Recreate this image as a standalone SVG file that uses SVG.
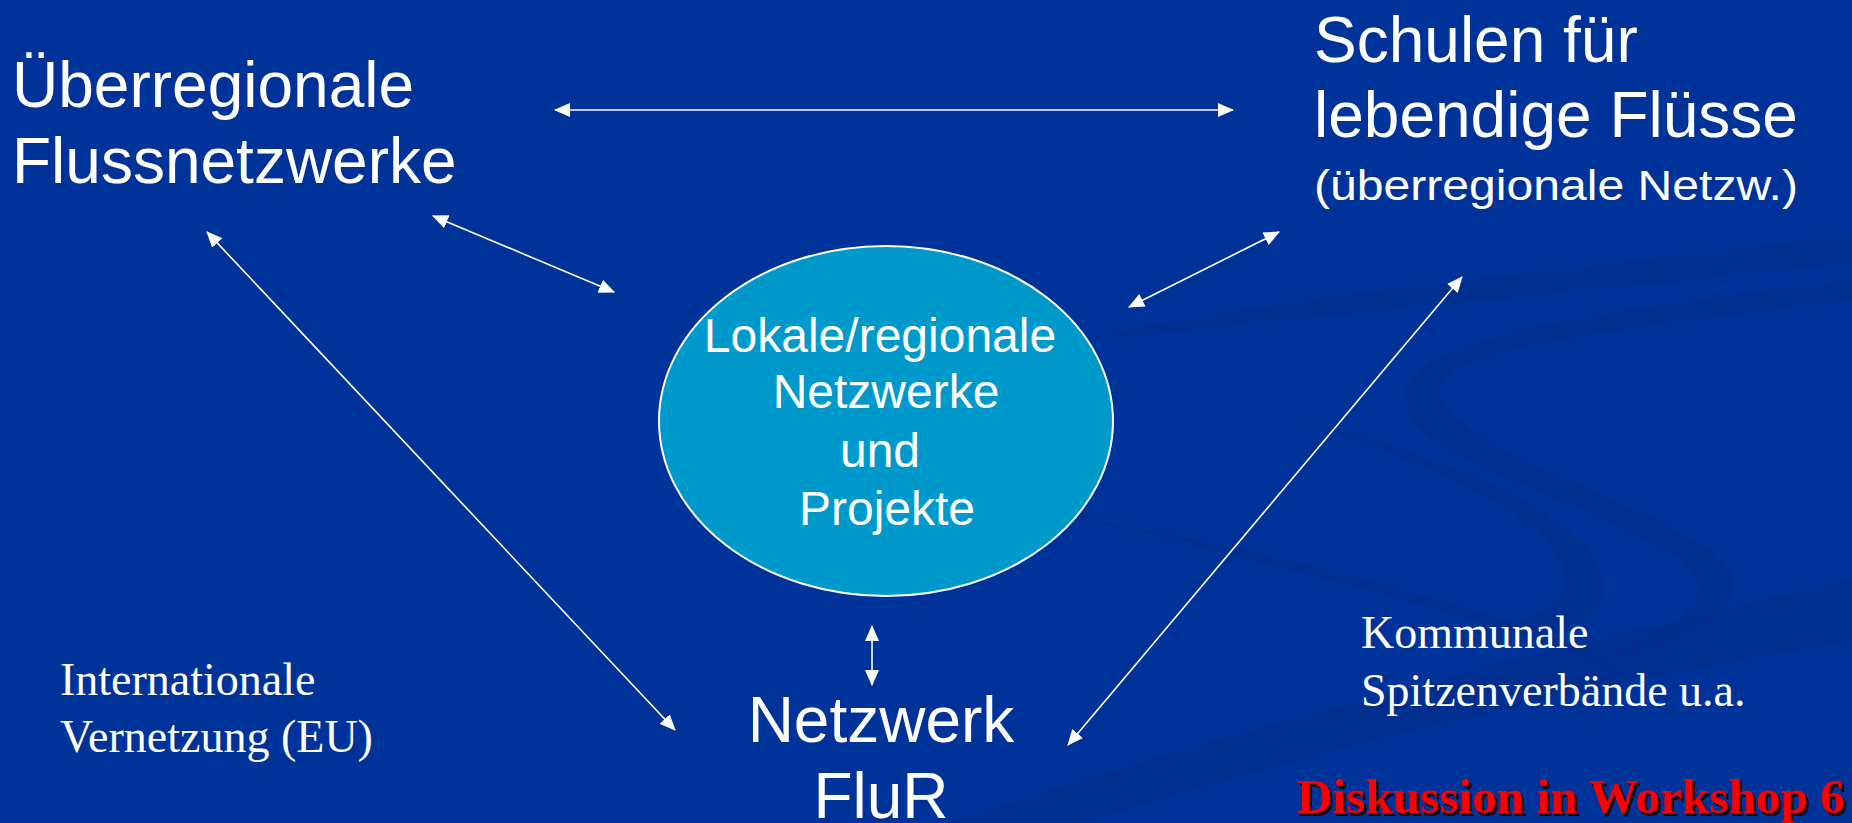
<svg xmlns="http://www.w3.org/2000/svg" width="1852" height="823" viewBox="0 0 1852 823">
<defs>
<style>
.sans{font-family:"Liberation Sans",Arial,sans-serif;fill:#fff}
.serif{font-family:"Liberation Serif","Times New Roman",serif;fill:#fff}
.big{font-size:64px}
.mid{font-size:48px}
.conn line{stroke:#fff;stroke-width:1.6;marker-start:url(#ah);marker-end:url(#ah)}
.swoosh{fill:#002a85;opacity:0.45}
</style>
<marker id="ah" markerUnits="userSpaceOnUse" markerWidth="16" markerHeight="14" refX="15" refY="7" orient="auto-start-reverse">
<path d="M0,0 L16,7 L0,14 z" fill="#fff"/>
</marker>
</defs>
<rect width="1852" height="823" fill="#003399"/>
<g id="background">
<path class="swoosh" d="M1060,345 C1300,290 1600,270 1852,235 L1852,262 C1600,292 1320,312 1060,345 z"/>
<path class="swoosh" d="M1852,300 C1600,330 1430,350 1440,395 C1450,450 1650,500 1720,560 C1760,600 1700,640 1600,660 C1700,620 1720,590 1680,560 C1600,500 1400,460 1405,395 C1410,335 1620,310 1852,280 z"/>
<path class="swoosh" d="M1000,500 C1200,540 1400,580 1560,640 C1640,672 1640,700 1560,720 C1640,690 1620,665 1540,640 C1380,590 1200,545 1000,500 z"/>
<path class="swoosh" d="M950,823 C1200,740 1500,660 1852,580 L1852,640 C1500,700 1250,770 1080,823 z"/>
<path class="swoosh" d="M1300,420 C1500,470 1620,540 1600,600 C1580,640 1500,650 1430,640 C1520,630 1560,610 1565,585 C1575,530 1450,470 1300,420 z"/>
</g>
<g id="connectors" class="conn">
<line x1="555" y1="110" x2="1233" y2="110"/>
<line x1="433" y1="216" x2="614" y2="292"/>
<line x1="207" y1="232" x2="675" y2="730"/>
<line x1="1279" y1="232" x2="1129" y2="307"/>
<line x1="1462" y1="277" x2="1068" y2="745"/>
<line x1="872" y1="626" x2="872" y2="685"/>
</g>
<g id="node-ueberregional">
<text class="sans big" x="12" y="107">Überregionale</text>
<text class="sans big" x="12" y="183">Flussnetzwerke</text>
</g>
<g id="node-schulen">
<text class="sans big" x="1314" y="62">Schulen für</text>
<text class="sans big" x="1314" y="137">lebendige Flüsse</text>
<text class="sans" font-size="42" x="1314" y="200" textLength="484" lengthAdjust="spacingAndGlyphs">(überregionale Netzw.)</text>
</g>
<g id="node-lokal">
<ellipse cx="886" cy="421" rx="227" ry="175" fill="#0099CC" stroke="#fff" stroke-width="2"/>
<text class="sans mid" text-anchor="middle" x="880" y="352">Lokale/regionale</text>
<text class="sans mid" text-anchor="middle" x="886" y="408">Netzwerke</text>
<text class="sans mid" text-anchor="middle" x="880" y="467">und</text>
<text class="sans mid" text-anchor="middle" x="887" y="525">Projekte</text>
</g>
<g id="node-flur">
<text class="sans big" text-anchor="middle" x="881" y="742">Netzwerk</text>
<text class="sans big" text-anchor="middle" x="881" y="818">FluR</text>
</g>
<g id="node-international">
<text class="serif" font-size="46" x="60" y="695">Internationale</text>
<text class="serif" font-size="46" x="60" y="752">Vernetzung (EU)</text>
</g>
<g id="node-kommunal">
<text class="serif" font-size="46" x="1361" y="648">Kommunale</text>
<text class="serif" font-size="46" x="1361" y="706">Spitzenverbände u.a.</text>
</g>
<g id="node-workshop">
<text font-family="Liberation Serif, serif" font-weight="bold" font-size="48" x="1299.5" y="815.5" fill="#1a0000" textLength="548" lengthAdjust="spacingAndGlyphs">Diskussion in Workshop 6</text>
<text font-family="Liberation Serif, serif" font-weight="bold" font-size="48" x="1297" y="813" fill="#ff0000" textLength="548" lengthAdjust="spacingAndGlyphs">Diskussion in Workshop 6</text>
</g>
</svg>
